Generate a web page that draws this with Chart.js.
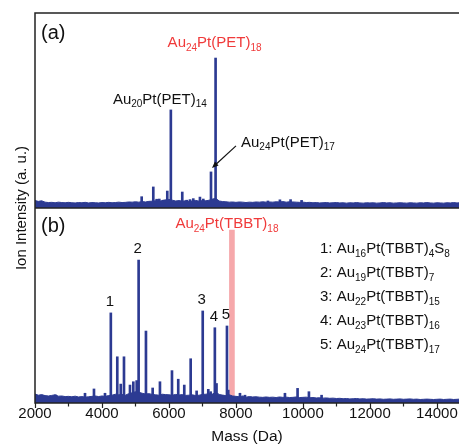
<!DOCTYPE html>
<html>
<head>
<meta charset="utf-8">
<script src="https://cdn.jsdelivr.net/npm/chart.js@4.4.1/dist/chart.umd.min.js"></script>
<style>
  html, body { margin: 0; padding: 0; background: #fff; overflow: hidden; }
  #wrap { width: 459px; height: 446px; }
</style>
</head>
<body>
<div id="wrap"><canvas id="ms" width="459" height="446"></canvas></div>
<script>
// mass grid for the baseline traces (Da)
const massStart = 2000;
const massStep = 100;

// baseline noise, one value per 100 Da from 2000 Da
const baseA = [
  3.8, 3.4, 3.7, 3.0, 2.8, 2.9, 2.7, 3.0, 2.8, 2.7,
  2.9, 2.7, 2.6, 2.8, 2.7, 2.9, 2.6, 2.8, 2.7, 2.6,
  2.8, 2.7, 2.9, 2.7, 2.8, 3.0, 2.8, 2.9, 3.1, 3.0,
  3.2, 3.0, 3.3, 3.1, 3.4, 3.5, 3.7, 3.4, 3.8, 4.2,
  4.4, 4.0, 3.6, 3.8, 3.5, 3.7, 3.4, 3.6, 3.9, 3.5,
  3.8, 3.7, 4.0, 4.6, 4.9, 3.6, 3.3, 3.2, 3.0, 3.1,
  2.9, 3.1, 3.0, 2.8, 3.0, 2.9, 3.1, 3.0, 3.2, 3.0,
  3.1, 3.0, 3.2, 3.1, 3.3, 3.0, 3.2, 3.1, 3.0, 2.9,
  3.0, 2.8, 2.9, 2.7, 2.8, 2.6, 2.7, 2.8, 2.6, 2.7,
  2.8, 2.6, 2.7, 2.5, 2.7, 2.6, 2.8, 2.6, 2.5, 2.7,
  2.6, 2.7, 2.5, 2.6, 2.8, 2.6, 2.7, 2.5, 2.6, 2.7,
  2.6, 2.5, 2.7, 2.6, 2.5, 2.7, 2.6, 2.8, 2.6, 2.5,
  2.7, 2.6, 2.5, 2.7, 2.6, 2.8, 2.6, 2.7
];
const baseB = [
  4.6, 4.0, 4.3, 3.8, 3.6, 3.9, 4.2, 3.5, 3.6, 3.3,
  3.4, 3.2, 3.5, 3.1, 3.3, 3.0, 3.2, 3.4, 3.6, 3.3,
  3.6, 3.4, 3.8, 4.0, 4.5, 4.2, 4.4, 4.0, 4.8, 5.2,
  5.8, 5.5, 5.0, 4.6, 4.8, 4.4, 4.2, 4.0, 4.5, 4.3,
  4.2, 4.0, 4.4, 4.1, 4.3, 3.9, 4.0, 4.2, 3.8, 4.0,
  4.4, 4.5, 4.8, 4.6, 5.5, 4.4, 4.0, 3.8, 4.2, 3.6,
  3.4, 3.2, 3.6, 3.0, 3.3, 3.1, 3.2, 3.0, 2.9, 3.1,
  2.9, 3.0, 2.8, 3.1, 2.9, 3.0, 2.8, 2.9, 3.1, 2.8,
  2.9, 3.0, 2.7, 2.8, 2.6, 2.7, 2.5, 2.6, 2.4, 2.5,
  2.3, 2.4, 2.2, 2.3, 2.1, 2.2, 2.3, 2.1, 2.2, 2.0,
  2.1, 2.2, 2.0, 2.1, 1.9, 2.0, 2.1, 1.9, 2.0, 2.1,
  1.9, 2.0, 2.1, 1.9, 2.0, 1.8, 1.9, 2.0, 1.9, 1.8,
  1.9, 2.0, 1.8, 1.9, 2.0, 1.8, 1.9, 2.0
];

// (a) Au24Pt(PET)18 sample: peak positions (Da) and heights
const peaksAMass = [4836, 5185, 5532, 5632, 5711, 5830, 5950, 6056, 6397, 6528,
                    6627, 6726, 6925, 7025, 7255, 7392, 8955, 9313, 9631, 9960];
const peaksAInt  = [2.9, 5.8, 10.8, 4.5, 4.6, 4.0, 8.7, 50.3, 8.2, 4.0,
                    4.3, 4.8, 5.6, 4.6, 18.5, 76.9, 3.6, 4.2, 4.3, 3.9];

// (b) after ligand exchange with TBBT
const peaksBMass = [2618, 3493, 3761, 4090, 4264, 4457, 4560, 4657, 4836, 4936,
                    5036, 5094, 5313, 5513, 5731, 6090, 6277, 6457, 6648, 6826,
                    7008, 7174, 7244, 7370, 7420, 7592, 7732, 7770, 8120, 8270,
                    9463, 9840, 10179, 10557];
const peaksBInt  = [4.1, 5.0, 7.2, 5.0, 46.2, 23.7, 9.7, 23.7, 9.2, 10.9,
                    11.5, 73.3, 36.9, 7.7, 10.9, 16.6, 12.2, 9.2, 22.7, 6.2,
                    47.2, 7.0, 5.8, 38.6, 10.0, 4.0, 39.5, 6.6, 5.0, 4.0,
                    5.0, 7.5, 5.8, 4.0];

// expected position of Au24Pt(TBBT)18 (highlight band)
const markMass = [7880];
const markInt  = [88.7];

// numbered species in (b)
const numberedMass = [4264, 5094, 7008, 7370, 7732];
const numberedInt  = [46.2, 73.3, 47.2, 38.6, 39.5];
const numberedText = ['1', '2', '3', '4', '5'];
const speciesText = [
  '1: Au_16Pt(TBBT)_4S_8',
  '2: Au_19Pt(TBBT)_7',
  '3: Au_22Pt(TBBT)_15',
  '4: Au_23Pt(TBBT)_16',
  '5: Au_24Pt(TBBT)_17'
];

// mass axis ticks
const xTickLabels = [2000, 4000, 6000, 8000, 10000, 12000, 14000];
const xMinorTicks = [3000, 5000, 7000, 9000, 11000, 13000];
const xMin = 2000, xMax = 14660;

const BLUE = '#2c3a92';
const RED = '#f03a3a';
const PINK = '#f6a8ab';
const FRAME = '#222';
const INK = '#111';
const FONT = '"Liberation Sans", Arial, sans-serif';

const gridXY = vals => vals.map((v, i) => ({ x: massStart + i * massStep, y: v }));
const toXY = (xs, ys) => xs.map((x, i) => ({ x: x, y: ys[i] }));

// text with "_12" style subscripts
function richText(ctx, str, x, y, size, color, align) {
  const parts = str.split(/_(\d+)/);
  const sub = Math.round(size * 0.68);
  let w = 0;
  parts.forEach((p, i) => {
    ctx.font = (i % 2 ? sub : size) + 'px ' + FONT;
    w += ctx.measureText(p).width;
  });
  let cx = align === 'center' ? x - w / 2 : x;
  ctx.fillStyle = color;
  ctx.textAlign = 'left';
  ctx.textBaseline = 'alphabetic';
  const base = y + size * 0.35;
  parts.forEach((p, i) => {
    ctx.font = (i % 2 ? sub : size) + 'px ' + FONT;
    ctx.fillText(p, cx, i % 2 ? base + size * 0.22 : base);
    cx += ctx.measureText(p).width;
  });
}

const decorations = {
  id: 'decorations',
  afterDraw(chart) {
    const { ctx, chartArea: ca, scales } = chart;
    const x = scales.x, yA = scales.yA, yB = scales.yB;
    const mid = yA.bottom;
    ctx.save();

    // frame and panel divider
    ctx.strokeStyle = FRAME;
    ctx.lineWidth = 1.5;
    ctx.beginPath();
    ctx.moveTo(ca.right + 2, ca.top);
    ctx.lineTo(ca.left, ca.top);
    ctx.lineTo(ca.left, ca.bottom);
    ctx.lineTo(ca.right + 2, ca.bottom);
    ctx.moveTo(ca.left, mid);
    ctx.lineTo(ca.right + 2, mid);
    ctx.stroke();

    // outward ticks and labels on the mass axis
    ctx.lineWidth = 1.2;
    ctx.beginPath();
    xTickLabels.concat(xMinorTicks).forEach(m => {
      const px = Math.round(x.getPixelForValue(m)) + 0.5;
      const len = xTickLabels.includes(m) ? 5 : 3.5;
      ctx.moveTo(px, ca.bottom);
      ctx.lineTo(px, ca.bottom + len);
    });
    ctx.stroke();

    ctx.fillStyle = INK;
    ctx.font = '15px ' + FONT;
    ctx.textAlign = 'center';
    ctx.textBaseline = 'middle';
    xTickLabels.forEach(m => ctx.fillText(String(m), x.getPixelForValue(m), ca.bottom + 11));
    ctx.font = '15.5px ' + FONT;
    ctx.fillText('Mass (Da)', (ca.left + ca.right) / 2, ca.bottom + 34);

    // panel letters
    ctx.font = '20px ' + FONT;
    ctx.textAlign = 'left';
    ctx.fillText('(a)', ca.left + 6, yA.top + 20);
    ctx.fillText('(b)', ca.left + 6, yB.top + 18);

    // y axis title spanning both panels
    ctx.save();
    ctx.translate(22, (ca.top + ca.bottom) / 2);
    ctx.rotate(-Math.PI / 2);
    ctx.font = '15px ' + FONT;
    ctx.textAlign = 'center';
    ctx.fillText('Ion Intensity (a. u.)', 0, 0);
    ctx.restore();

    // (a) assignments
    const pA = i => ({ x: x.getPixelForValue(peaksAMass[i]), y: yA.getPixelForValue(peaksAInt[i]) });
    const main = pA(peaksAMass.indexOf(7392));
    const au20 = pA(peaksAMass.indexOf(6056));
    const au17 = pA(peaksAMass.indexOf(7255));
    richText(ctx, 'Au_24Pt(PET)_18', main.x - 1, main.y - 16, 15, RED, 'center');
    richText(ctx, 'Au_20Pt(PET)_14', au20.x - 11, au20.y - 11, 15, INK, 'center');
    richText(ctx, 'Au_24Pt(PET)_17', au17.x + 30, au17.y - 30, 15, INK, 'left');

    // arrow to the Au24Pt(PET)17 peak
    const tipX = au17.x + 1, tipY = au17.y - 4;
    const tailX = au17.x + 25, tailY = au17.y - 26;
    const ang = Math.atan2(tipY - tailY, tipX - tailX);
    ctx.strokeStyle = INK;
    ctx.lineWidth = 1.2;
    ctx.beginPath();
    ctx.moveTo(tailX, tailY);
    ctx.lineTo(tipX - 4 * Math.cos(ang), tipY - 4 * Math.sin(ang));
    ctx.stroke();
    ctx.fillStyle = INK;
    ctx.beginPath();
    ctx.moveTo(tipX, tipY);
    ctx.lineTo(tipX - 7 * Math.cos(ang - 0.4), tipY - 7 * Math.sin(ang - 0.4));
    ctx.lineTo(tipX - 7 * Math.cos(ang + 0.4), tipY - 7 * Math.sin(ang + 0.4));
    ctx.closePath();
    ctx.fill();

    // (b) highlight label and numbered peaks
    const mx = x.getPixelForValue(markMass[0]);
    const my = yB.getPixelForValue(markInt[0]);
    richText(ctx, 'Au_24Pt(TBBT)_18', mx - 5, my - 7, 15, RED, 'center');

    ctx.font = '15px ' + FONT;
    ctx.fillStyle = INK;
    ctx.textAlign = 'center';
    ctx.textBaseline = 'middle';
    numberedMass.forEach((m, i) => {
      ctx.fillText(numberedText[i], x.getPixelForValue(m) - 1, yB.getPixelForValue(numberedInt[i]) - 11);
    });

    speciesText.forEach((t, i) => {
      richText(ctx, t, 320, yB.top + 40 + i * 24, 15, INK, 'left');
    });

    ctx.restore();
  }
};

const ctx = document.getElementById('ms').getContext('2d');
new Chart(ctx, {
  type: 'line',
  data: {
    datasets: [
      { type: 'line', data: gridXY(baseA), yAxisID: 'yA', borderColor: BLUE, backgroundColor: BLUE,
        fill: 'origin', borderWidth: 1, pointRadius: 0, tension: 0 },
      { type: 'bar', data: toXY(peaksAMass, peaksAInt), yAxisID: 'yA', backgroundColor: BLUE,
        barThickness: 2, grouped: false },
      { type: 'line', data: gridXY(baseB), yAxisID: 'yB', borderColor: BLUE, backgroundColor: BLUE,
        fill: 'origin', borderWidth: 1, pointRadius: 0, tension: 0 },
      { type: 'bar', data: toXY(peaksBMass, peaksBInt), yAxisID: 'yB', backgroundColor: BLUE,
        barThickness: 2, grouped: false },
      { type: 'bar', data: toXY(markMass, markInt), yAxisID: 'yB', backgroundColor: PINK,
        barThickness: 5, grouped: false }
    ]
  },
  options: {
    responsive: false,
    animation: false,
    layout: { padding: { left: 35, top: 13, right: 0, bottom: 43 } },
    plugins: { legend: { display: false }, tooltip: { enabled: false } },
    scales: {
      x: { type: 'linear', display: false, min: xMin, max: xMax, offset: false },
      // stacked panels: the first one listed sits at the bottom
      yB: { type: 'linear', display: false, stack: 'panels', stackWeight: 1, min: 0, max: 100, offset: false },
      yA: { type: 'linear', display: false, stack: 'panels', stackWeight: 1, min: 0, max: 100, offset: false }
    }
  },
  plugins: [decorations]
});
</script>
</body>
</html>
